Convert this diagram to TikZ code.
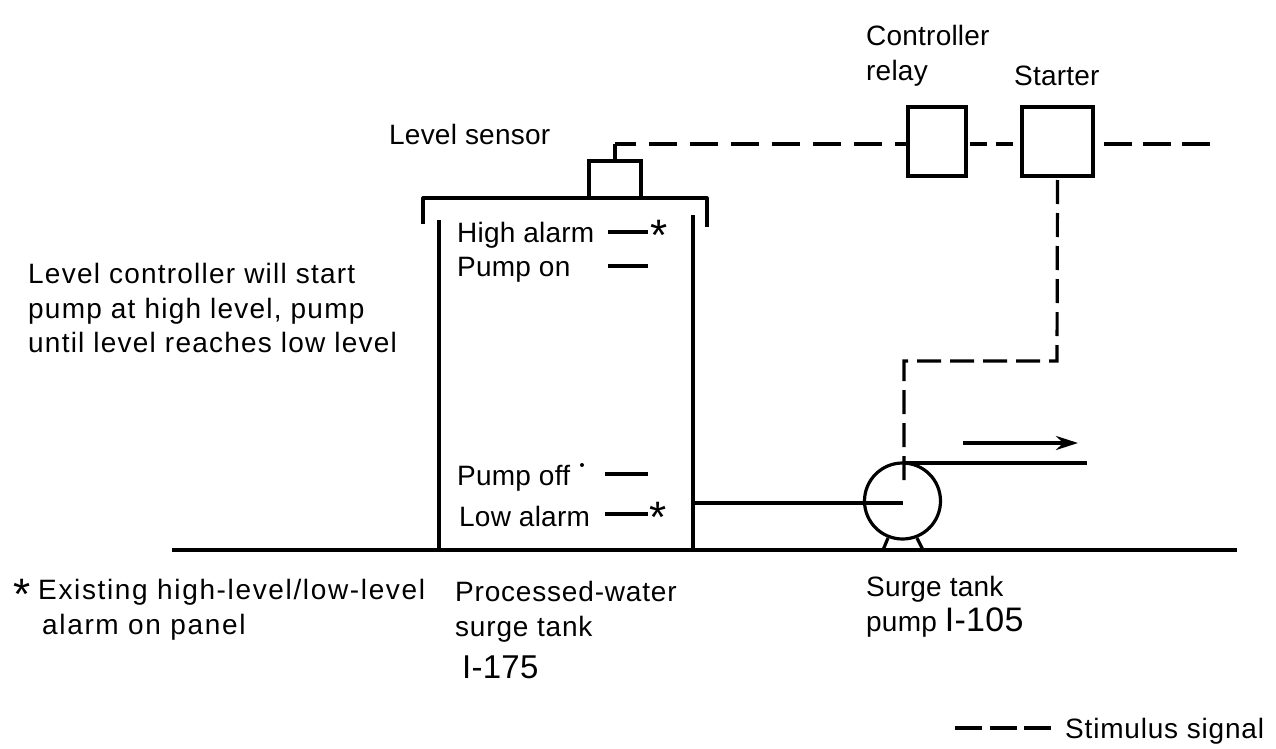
\documentclass[tikz,border=0pt]{standalone}
\usepackage{fontspec}
\setmainfont[LetterSpace=0.8]{Liberation Sans}
\newfontfamily\wideA[LetterSpace=4.4]{Liberation Sans}
\newfontfamily\wideB[LetterSpace=5.9]{Liberation Sans}
\newfontfamily\wideC[LetterSpace=2.9]{Liberation Sans}
\newcommand{\bigdig}[1]{{\fontsize{34}{35}\selectfont #1}}
\usetikzlibrary{arrows.meta}
\begin{document}
\begin{tikzpicture}[x=1pt,y=-1pt,
  line/.style={draw=black,line width=3.2pt},
  sig/.style={draw=black,line width=3.2pt,dash pattern=on 28pt off 13pt},
  sigr/.style={draw=black,line width=3.2pt,dash pattern=on 28pt off 11pt,dash phase=28pt},
  sigm/.style={draw=black,line width=3.2pt,dash pattern=on 17pt off 9pt,dash phase=22pt},
  sigs/.style={draw=black,line width=3.2pt,dash pattern=on 24pt off 9pt,dash phase=29pt},
  box/.style={draw=black,line width=3.2pt,inner sep=0pt,outer sep=0pt},
  lbl/.style={inner sep=0pt,font=\fontsize{28}{35}\selectfont,align=left,anchor=west,text=black},
  star/.style={inner sep=0pt,font=\fontsize{44}{44}\selectfont,anchor=west,text=black}]
\useasboundingbox (0,0) rectangle (1276,749);
\fill[white] (0,0) rectangle (1276,749);
% ground
\coordinate (gl) at (172,550); \coordinate (gr) at (1237,550);
\draw[line] (gl) -- (gr);
% tank
\coordinate (tl) at (439,550); \coordinate (tr) at (693,550);
\coordinate (tlt) at (439,220); \coordinate (trt) at (693,215);
\draw[line] (tl) -- (tlt);
\draw[line] (tr) -- (trt);
\coordinate (ca) at (423,224); \coordinate (cb) at (707,227);
\draw[line,line join=round] (ca) -- (423,198) -- (707,198) -- (cb);
% sensor and boxes
\node[box,minimum width=52pt,minimum height=37pt] (sensor) at (615,179.5) {};
\node[box,minimum width=58pt,minimum height=69pt] (relay) at (937,141.5) {};
\node[box,minimum width=71pt,minimum height=69pt] (starter) at (1057.5,141.5) {};
\coordinate (sjog) at (615,144);
\coordinate (send) at (1210,144);
\draw[line] (sensor.north) -- (sjog);
\draw[sig,dash phase=7pt] (sjog) -- (relay.west |- sjog);
\draw[sigm] (relay.east |- sjog) -- (starter.west |- sjog);
\draw[sigr] (starter.east |- sjog) -- (send);
% pump
\node[box,circle,minimum size=76pt] (pump) at (902.5,501) {};
\coordinate (c1) at (904,463);
\coordinate (c2) at (1087,463);
\draw[line] (c1) -- (c2);
\coordinate (inl) at (693,503);
\draw[line] (inl) -- (903,503);
\draw[line] (888,538) -- (883,550);
\draw[line] (917,538) -- (923,550);
\coordinate (arS) at (963,443); \coordinate (arE) at (1078,443);
\draw[line,-{Stealth[length=22pt,width=14pt]}] (arS) -- (arE);
% pump signal
\coordinate (d1) at (1057,361); \coordinate (d2) at (904,361); \coordinate (d3) at (904,480);
\draw[sigs] (starter.south) -- (d1) -- (d2) -- (d3);
% level marks
\node[lbl] (t1) at (457,235) {High alarm};
\node[lbl] (t2) at (457,270) {Pump on};
\node[lbl] (t3) at (457,478) {Pump off};
\node[lbl] (t4) at (459,516) {Low alarm};
\coordinate (m1a) at (608,232); \coordinate (m1b) at (648,232);
\coordinate (m2a) at (608,266); \coordinate (m2b) at (648,266);
\coordinate (m3a) at (605,474); \coordinate (m3b) at (648,474);
\coordinate (m4a) at (605,514); \coordinate (m4b) at (648,514);
\draw[line] (m1a) -- (m1b);
\draw[line] (m2a) -- (m2b);
\draw[line] (m3a) -- (m3b);
\draw[line] (m4a) -- (m4b);
\node[star] (s1) at (650,235) {*};
\node[star] (s2) at (649,517) {*};
\fill (582,465) circle (2pt);
% labels
\node[lbl] (ls) at (389,134) {Level sensor};
\node[lbl] (cr) at (866,56) {Controller\\relay};
\node[lbl] (st) at (1014,76) {Starter};
\node[lbl,font=\fontsize{28}{34.5}\selectfont\wideA] (desc) at (28,308) {Level controller will start\\pump at high level, pump\\until level reaches low level};
\node[star] (s3) at (13,594) {*};
\node[lbl,font=\fontsize{28}{35}\selectfont\wideB] (ex) at (38,610) {Existing high-level/low-level\\\hspace*{4pt}alarm on panel};
\node[lbl,font=\fontsize{28}{35}\selectfont\wideC] (pw) at (455,612) {Processed-water\\surge tank};
\node[lbl,font=\fontsize{33}{33}\selectfont] (n1) at (462,667) {I-175};
\node[lbl] (sp) at (866,607) {Surge tank\\pump \bigdig{I-105}};
\node[lbl,font=\fontsize{28}{35}\selectfont\wideC] (ss) at (1065,731) {Stimulus signal};
\coordinate (ks) at (955,728); \coordinate (ke) at (1051,728);
\draw[draw=black,line width=3.2pt,dash pattern=on 27pt off 7.5pt] (ks) -- (ke);
\end{tikzpicture}
\end{document}
